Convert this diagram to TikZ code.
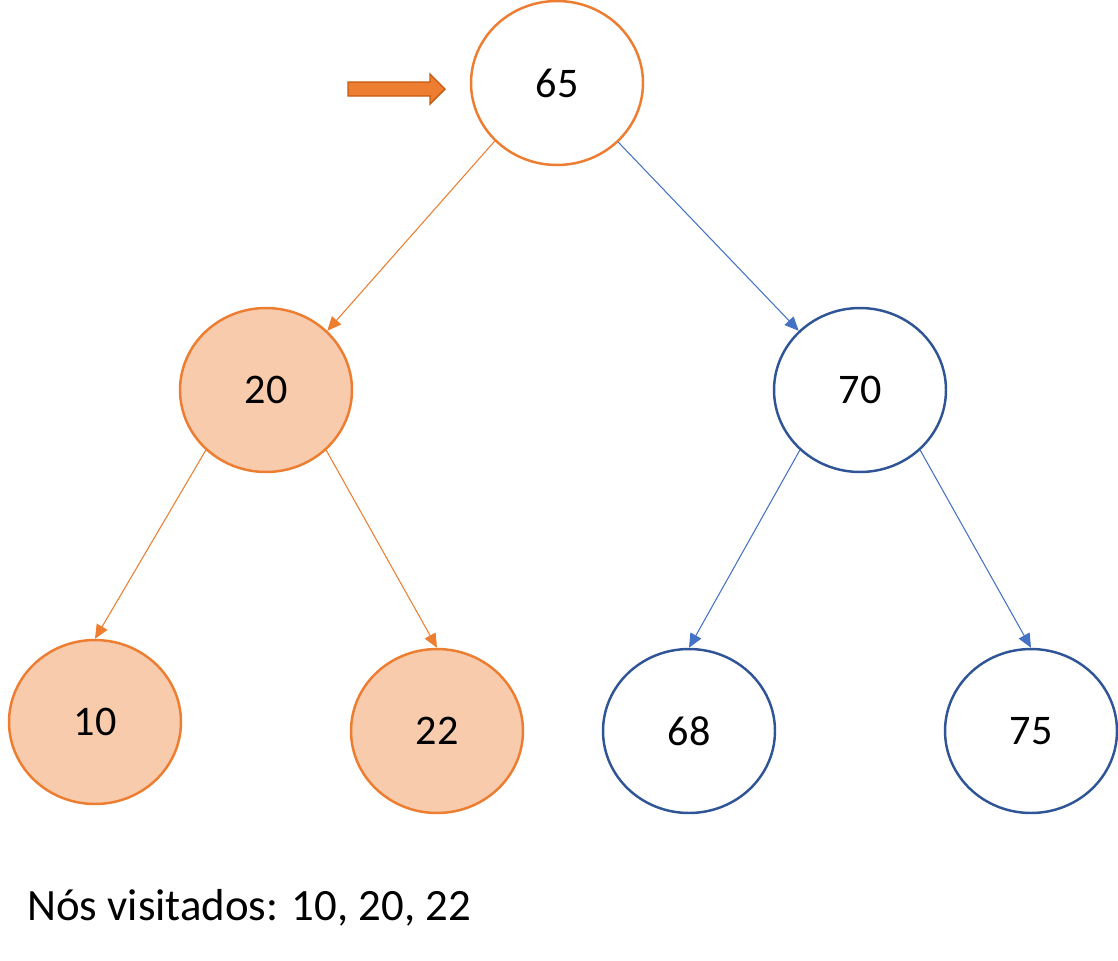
\documentclass[tikz,border=0pt]{standalone}
\usepackage{fontspec}
\setmainfont{Carlito}
\usetikzlibrary{shapes.geometric,arrows.meta}
\definecolor{orng}{HTML}{ED7D31}
\definecolor{orngfill}{HTML}{F8CBAD}
\definecolor{orngdark}{HTML}{C55A11}
\definecolor{bluedark}{HTML}{2F5597}
\definecolor{blueedge}{HTML}{4472C4}
\tikzset{
  px/.style={x=0.02cm,y=-0.02cm},
  treenode/.style={ellipse,minimum width=3.44cm,minimum height=3.28cm,inner sep=0pt,line width=1.4pt,font=\fontsize{24}{28}\selectfont},
  visited/.style={treenode,draw=orng,fill=orngfill},
  current/.style={treenode,draw=orng,fill=white},
  plain/.style={treenode,draw=bluedark,fill=white},
  oedge/.style={draw=orng,line width=0.6pt,-{Triangle[length=8pt,width=7pt]}},
  bedge/.style={draw=blueedge,line width=0.6pt,-{Triangle[length=8pt,width=7pt]}}
}
\begin{document}
\begin{tikzpicture}[px]
\useasboundingbox (0,0) rectangle (1118,960);
\node[current] (n65) at (557,83) {65};
\node[visited] (n20) at (266,390) {20};
\node[plain] (n70) at (860,390) {70};
\node[visited] (n10) at (95,722) {10};
\node[visited] (n22) at (437,731) {22};
\node[plain] (n68) at (689,731) {68};
\node[plain] (n75) at (1031,731) {75};
\draw[oedge] (n65.223) -- (n20.44);
\draw[bedge] (n65.316) -- (n70.136);
\draw[oedge] (n20.225) -- (n10.north);
\draw[oedge] (n20.315) -- (n22.north);
\draw[bedge] (n70.225) -- (n68.north);
\draw[bedge] (n70.315) -- (n75.north);
\draw[fill=orng,draw=orngdark,line width=0.8pt] (348,82) -- (430,82) -- (430,74) -- (445,89) -- (430,104) -- (430,96) -- (348,96) -- cycle;
\node[anchor=base west,inner sep=0pt,font=\fontsize{25.5}{30}\selectfont] (caption) at (27,920) {Nós visitados: 10, 20, 22};
\end{tikzpicture}
\end{document}
